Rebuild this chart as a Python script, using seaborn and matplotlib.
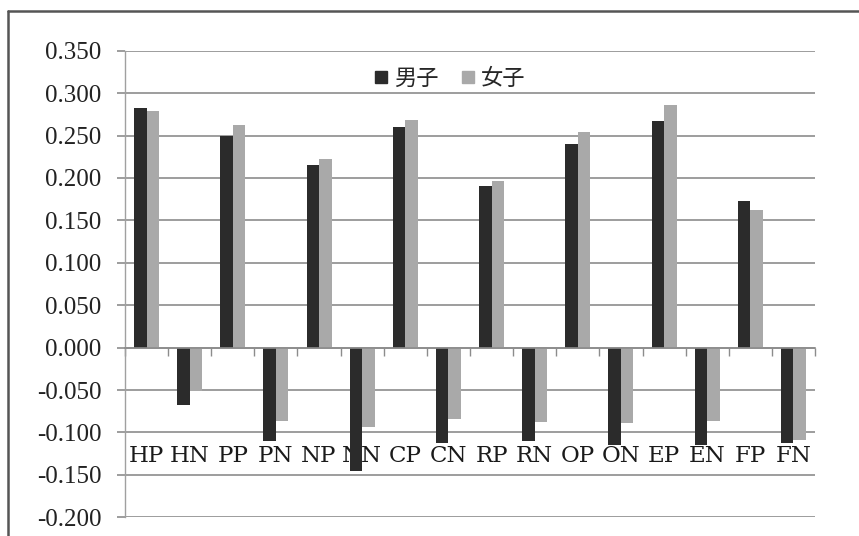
import matplotlib
matplotlib.use("Agg")
import matplotlib.pyplot as plt
from matplotlib.lines import Line2D
import numpy as np
import pandas as pd
import seaborn as sns

# Scale items and group labels
categories = ["HP", "HN", "PP", "PN", "NP", "NN", "CP", "CN",
              "RP", "RN", "OP", "ON", "EP", "EN", "FP", "FN"]
series_names = ["男子", "女子"]
male = [0.283, -0.068, 0.250, -0.110, 0.215, -0.146, 0.260, -0.112,
        0.190, -0.110, 0.240, -0.115, 0.267, -0.115, 0.173, -0.112]
female = [0.279, -0.051, 0.262, -0.086, 0.222, -0.093, 0.268, -0.084,
          0.197, -0.088, 0.254, -0.089, 0.286, -0.086, 0.162, -0.109]
y_ticks = [0.35, 0.30, 0.25, 0.20, 0.15, 0.10, 0.05, 0.0,
           -0.05, -0.10, -0.15, -0.20]

colors = {"男子": "#2b2b2b", "女子": "#a9a9a9"}
grid_color = "#8c8c8c"

df = pd.DataFrame({
    "item": categories * 2,
    "group": [series_names[0]] * len(categories) + [series_names[1]] * len(categories),
    "value": male + female,
})

sns.set_theme(style="white")
plt.rcParams["font.family"] = ["Liberation Serif", "DejaVu Serif"]

fig = plt.figure(figsize=(8.59, 5.36), dpi=100)
ax = fig.add_axes([0.1455, 0.0349, 0.8033, 0.8705])

sns.barplot(data=df, x="item", y="value", hue="group", order=categories,
            hue_order=series_names, palette=colors, width=0.58,
            saturation=1, linewidth=0, errorbar=None, legend=False, ax=ax)

ax.set_ylim(-0.2, 0.35)
ax.set_xlim(-0.5, len(categories) - 0.5)
ax.set_yticks(y_ticks)
ax.set_yticklabels([f"{v:.3f}" for v in y_ticks], fontsize=18, color="#222222")
ax.yaxis.grid(True, color=grid_color, linewidth=1.2)
ax.set_axisbelow(True)

# category axis sits on the zero line, labels further down
for side in ["top", "right"]:
    ax.spines[side].set_visible(False)
ax.spines["bottom"].set_position(("data", 0))
ax.spines["bottom"].set_color(grid_color)
ax.spines["bottom"].set_linewidth(1.2)
ax.spines["left"].set_color("#a0a0a0")
ax.spines["left"].set_linewidth(1.0)

ax.set_xticks(np.arange(len(categories)))
ax.set_xticklabels(categories, fontsize=16.5, family=["DejaVu Serif"], color="#1a1a1a")
ax.set_xticks(np.arange(len(categories) + 1) - 0.5, minor=True)
ax.tick_params(axis="x", which="major", length=0, pad=70)
ax.tick_params(axis="x", which="minor", length=6, width=1, color=grid_color,
               direction="out", bottom=True)
ax.tick_params(axis="y", length=6, width=1.2, color=grid_color, direction="out",
               left=True, pad=11)
ax.set_xlabel("")
ax.set_ylabel("")

handles = [Line2D([], [], linestyle="none", marker="s", markersize=8,
                  markerfacecolor=colors[n], markeredgecolor=colors[n])
           for n in series_names]
leg = ax.legend(handles, series_names, loc="center", bbox_to_anchor=(0.471, 0.94),
                ncol=2, frameon=False, handlelength=0.6, handletextpad=0.3,
                columnspacing=1.0, prop={"family": "Noto Sans CJK JP", "size": 16})

# outer chart border
fig.add_artist(Line2D([8 / 859, 1.0], [1 - 11 / 536, 1 - 11 / 536],
                      transform=fig.transFigure, color="#555555", linewidth=1.8))
fig.add_artist(Line2D([8 / 859, 8 / 859], [0.0, 1 - 11 / 536],
                      transform=fig.transFigure, color="#555555", linewidth=1.8))

fig.savefig("out.png", dpi=100, facecolor="white")
